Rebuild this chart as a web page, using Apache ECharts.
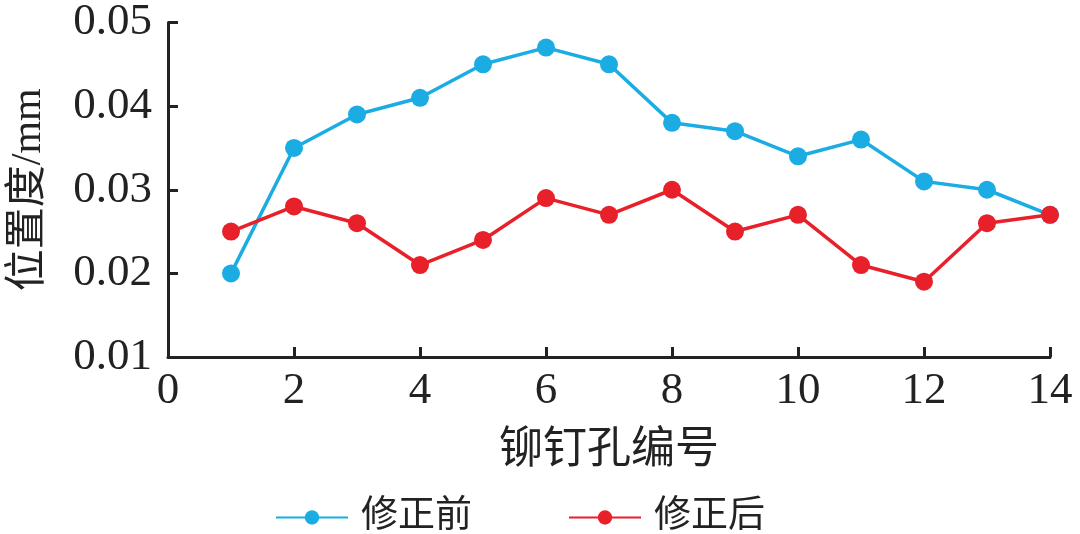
<!DOCTYPE html>
<html><head><meta charset="utf-8">
<script src="https://cdn.jsdelivr.net/npm/echarts@6/dist/echarts.min.js"></script>
<style>html,body{margin:0;padding:0;background:#fff}#c{width:1080px;height:534px}</style>
</head><body><div id="c"></div>
<script>
const holes = [1,2,3,4,5,6,7,8,9,10,11,12,13,14];
const before = [0.020,0.035,0.039,0.041,0.045,0.047,0.045,0.038,0.037,0.034,0.036,0.031,0.030,0.027];
const after  = [0.025,0.028,0.026,0.021,0.024,0.029,0.027,0.030,0.025,0.027,0.021,0.019,0.026,0.027];
const seriesNames = ['修正前','修正后'];
const xName = '铆钉孔编号';
const yName = '位置度/mm';
const serif = '"Liberation Serif","DejaVu Serif",serif';
const cjk = '"Liberation Serif","Noto Sans CJK SC",serif';
const chart = echarts.init(document.getElementById('c'));
chart.setOption({
  animation:false,
  backgroundColor:'#fff',
  grid:{left:165,right:30,top:18,bottom:177},
  legend:{
    top:494, left:270, itemWidth:72, itemHeight:18, itemGap:96,
    textStyle:{fontFamily:cjk,fontSize:37,color:'#222',padding:[0,0,0,8]},
    data:seriesNames
  },
  xAxis:{
    type:'value', min:0, max:14, interval:2,
    name:xName, nameLocation:'middle', nameGap:72,
    nameTextStyle:{fontFamily:cjk,fontSize:44,color:'#222'},
    axisLine:{show:true,lineStyle:{color:'#222',width:3}},
    axisTick:{show:true,inside:true,length:10,lineStyle:{color:'#222',width:3}},
    axisLabel:{fontFamily:serif,fontSize:45,color:'#222',margin:12},
    splitLine:{show:false}
  },
  yAxis:{
    type:'value', min:0.01, max:0.05, interval:0.01,
    name:yName, nameLocation:'middle', nameGap:118,
    nameTextStyle:{fontFamily:cjk,fontSize:42,color:'#222'},
    axisLine:{show:true,lineStyle:{color:'#222',width:3}},
    axisTick:{show:true,inside:true,length:10,lineStyle:{color:'#222',width:3}},
    axisLabel:{fontFamily:serif,fontSize:45,color:'#222',margin:16,formatter:v=>v.toFixed(2)},
    splitLine:{show:false}
  },
  series:[
    {name:seriesNames[0],type:'line',data:holes.map((h,i)=>[h,before[i]]),
     symbol:'circle',symbolSize:18,lineStyle:{width:3.5,color:'#1AACE3'},itemStyle:{color:'#1AACE3'}},
    {name:seriesNames[1],type:'line',data:holes.map((h,i)=>[h,after[i]]),
     symbol:'circle',symbolSize:18,lineStyle:{width:3.5,color:'#E8202A'},itemStyle:{color:'#E8202A'}}
  ]
});
</script></body></html>
